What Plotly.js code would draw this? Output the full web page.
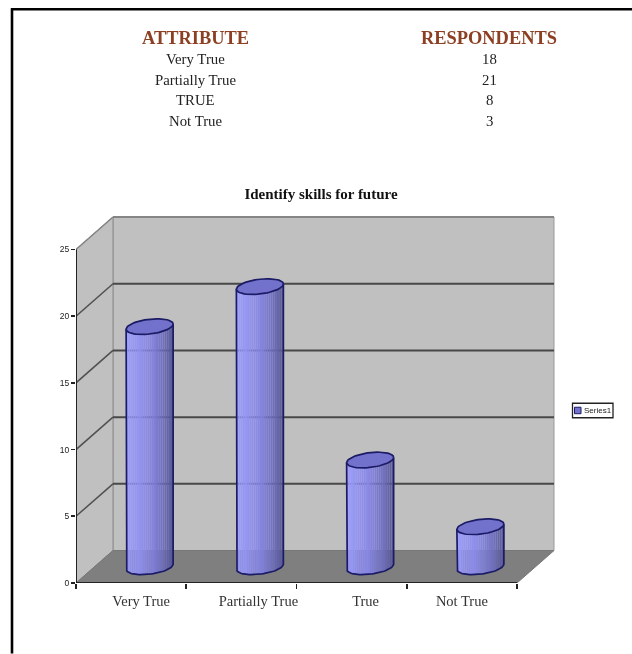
<!DOCTYPE html>
<html>
<head>
<meta charset="utf-8">
<script src="https://cdn.plot.ly/plotly-3.0.1.min.js"></script>
<style>
html,body{margin:0;padding:0;background:#fff}
#chart{width:632px;height:654px;filter:blur(0.55px)}
</style>
</head>
<body>
<div id="chart"></div>
<script>
// ---- data ----
const tableHeaders = ['ATTRIBUTE', 'RESPONDENTS'];
const tableAttributes = ['Very True', 'Partially True', 'TRUE', 'Not True'];
const tableRespondents = [18, 21, 8, 3];
const categories = ['Very True', 'Partially True', 'True', 'Not True'];
const values = [18, 21, 8, 3];
const seriesName = 'Series1';
const yTicks = [0, 5, 10, 15, 20, 25];
const title = 'Identify skills for future';

// ---- oblique-projection geometry, px to axis units ----
const W = 632, H = 654;
const L = 76, R = 555, T = 216, B = 583.5;
const pxPerCat = (517 - 76) / 4, pxPerUnit = 13.36;
const depthX = 37 / pxPerCat, depthY = 32.5 / pxPerUnit;
const xMax = (R - L) / pxPerCat, yMax = (B - T) / pxPerUnit;
const yTop = yTicks[yTicks.length - 1], nCat = categories.length;
const labelShiftPx = [10, 17, 14, 0];

const traces = [];
const poly = (xs, ys, fill, line, width) => traces.push({
  x: xs, y: ys, type: 'scatter', mode: width ? 'lines' : 'none', fill: 'toself', fillcolor: fill,
  line: {color: line || fill, width: width || 0}, hoverinfo: 'skip', showlegend: false, xaxis: 'x', yaxis: 'y'
});
const seg = (xs, ys, color, width, extra) => traces.push(Object.assign({
  x: xs, y: ys, type: 'scatter', mode: 'lines', line: {color, width}, hoverinfo: 'skip',
  showlegend: false, xaxis: 'x', yaxis: 'y', cliponaxis: false
}, extra || {}));

// walls and floor
poly([depthX, nCat + depthX, nCat + depthX, depthX, depthX], [depthY, depthY, yTop + depthY, yTop + depthY, depthY], '#c0c0c0', '#9a9a9a', 1);
poly([0, depthX, depthX, 0, 0], [0, depthY, yTop + depthY, yTop, 0], '#c0c0c0', '#8a8a8a', 1);
poly([0, depthX, nCat + depthX, nCat, 0], [0, depthY, depthY, 0, 0], '#7f7f7f', '#777777', 1);

// gridlines on both walls
yTicks.slice(1).forEach(v => {
  const isTop = v === yTop;
  seg([depthX, nCat + depthX], [v + depthY, v + depthY], isTop ? '#858585' : '#484848', 2);
  seg([0, depthX], [v, v + depthY], isTop ? '#858585' : '#505050', 1.5);
});

// cylinders
const rx = 23.5, ry = 7.4, tilt = 2.6, strips = 22;
const stripColor = f => {
  const s = [[0, [156,156,255]], [0.45, [136,136,232]], [0.75, [112,112,196]], [1, [84,84,146]]];
  let i = 0; while (i < s.length - 2 && f > s[i + 1][0]) i++;
  const k = (f - s[i][0]) / (s[i + 1][0] - s[i][0]);
  const c = s[i][1].map((a, j) => Math.round(a + (s[i + 1][1][j] - a) * k));
  return `rgba(${c[0]},${c[1]},${c[2]},0.95)`;
};
const ex = t => rx * Math.cos(t) / pxPerCat;
const ey = t => (tilt * Math.cos(t) + ry * Math.sin(t)) / pxPerUnit;
values.forEach((v, i) => {
  const cx = i + 0.5 + depthX / 2, y0 = depthY / 2, y1 = v + depthY / 2;
  for (let s = 0; s < strips; s++) {
    const c0 = 1 - 2 * s / strips, c1 = 1 - 2 * (s + 1) / strips;
    const a0 = -Math.acos(c0), a1 = -Math.acos(c1);
    poly([cx + ex(a0), cx + ex(a1), cx + ex(a1), cx + ex(a0), cx + ex(a0)],
         [y0 + ey(a0), y0 + ey(a1), y1 + ey(-a1), y1 + ey(-a0), y0 + ey(a0)],
         stripColor(1 - (s + 0.5) / strips));
  }
  const body = [], bodyY = [], cap = [], capY = [];
  for (let a = 0; a <= 40; a++) {
    const t = -Math.PI + Math.PI * a / 40;
    body.push(cx + ex(t)); bodyY.push(y0 + ey(t));
  }
  seg([cx + ex(Math.PI)].concat(body, [cx + ex(0)]), [y1 + ey(Math.PI)].concat(bodyY, [y1 + ey(0)]), '#1b1b66', 1.7);
  for (let a = 0; a <= 60; a++) {
    const t = 2 * Math.PI * a / 60;
    cap.push(cx + ex(t)); capY.push(y1 + ey(t));
  }
  poly(cap, capY, '#7272cc', '#1b1b66', 1.7);
});

// axis lines (carries the tick-mark axis too)
seg([0, 0, nCat], [yTop, 0, 0], '#222222', 2, {xaxis: 'x2'});

const layout = {
  width: W, height: H, autosize: false,
  paper_bgcolor: '#ffffff', plot_bgcolor: 'rgba(0,0,0,0)', showlegend: false,
  margin: {l: L, r: W - R, t: T, b: H - B, pad: 0},
  title: {text: '<b>' + title + '</b>', x: 321 / W, xanchor: 'center', y: 1 - 194 / H, yanchor: 'middle',
          font: {family: 'Liberation Serif', size: 15, color: '#111111'}},
  xaxis: {range: [0, xMax], showgrid: false, zeroline: false, showline: false, fixedrange: true,
          tickmode: 'array', tickvals: categories.map((c, i) => i + 0.5 + labelShiftPx[i] / pxPerCat), ticktext: categories,
          ticks: 'outside', ticklen: 5, tickcolor: 'rgba(0,0,0,0)',
          tickfont: {family: 'Liberation Serif', size: 14.5, color: '#333333'}},
  xaxis2: {range: [0, xMax], overlaying: 'x', anchor: 'y', side: 'bottom', showgrid: false, zeroline: false, showline: false,
           tickmode: 'array', tickvals: categories.map((c, i) => i).concat([nCat]), ticktext: categories.map(() => '').concat(['']),
           ticks: 'outside', ticklen: 5, tickwidth: 1.6, tickcolor: '#222222', showticklabels: false, fixedrange: true},
  yaxis: {range: [0, yMax], showgrid: false, zeroline: false, showline: false, fixedrange: true,
          tickmode: 'array', tickvals: yTicks, ticks: 'outside', ticklen: 4, tickwidth: 1.6, tickcolor: '#222222',
          tickfont: {family: 'Liberation Sans', size: 8.5, color: '#222222'}},
  annotations: []
};

// paper coords in Plotly are relative to the plot area; convert from page pixels
const px = x => (x - L) / (R - L), py = y => (B - y) / (B - T);
layout.shapes = [
  {type: 'line', xref: 'paper', yref: 'paper', x0: px(12), x1: px(12), y0: py(8), y1: py(654), line: {color: '#000', width: 2.6}},
  {type: 'line', xref: 'paper', yref: 'paper', x0: px(11), x1: px(632), y0: py(9), y1: py(9), line: {color: '#000', width: 2.6}},
  {type: 'rect', xref: 'paper', yref: 'paper', x0: px(572.5), x1: px(613), y0: py(418), y1: py(403.5), line: {color: '#222', width: 1.3}, fillcolor: '#fff'},
  {type: 'rect', xref: 'paper', yref: 'paper', x0: px(574.5), x1: px(581), y0: py(414), y1: py(407.5), line: {color: '#1b1b66', width: 1}, fillcolor: '#7272cc'}
];
const note = (text, x, y, size, color, bold, family) => layout.annotations.push({
  text: bold ? '<b>' + text + '</b>' : text, xref: 'paper', yref: 'paper', x: px(x), y: py(y), xanchor: 'center', yanchor: 'middle',
  showarrow: false, font: {family: family || 'Liberation Serif', size, color}
});
const headerColor = '#8c3f22';
note(tableHeaders[0], 195, 38, 18.4, headerColor, true);
note(tableHeaders[1], 489, 38, 18.4, headerColor, true);
const rowY = [59, 80, 100, 121];
tableAttributes.forEach((a, i) => {
  note(a, 195, rowY[i], 14.8, '#222222');
  note(String(tableRespondents[i]), 489, rowY[i], 14.8, '#222222');
});
note(seriesName, 597.5, 410.5, 8, '#222222', false, 'Liberation Sans');

Plotly.newPlot('chart', traces, layout, {displayModeBar: false, staticPlot: true});
</script>
</body>
</html>
